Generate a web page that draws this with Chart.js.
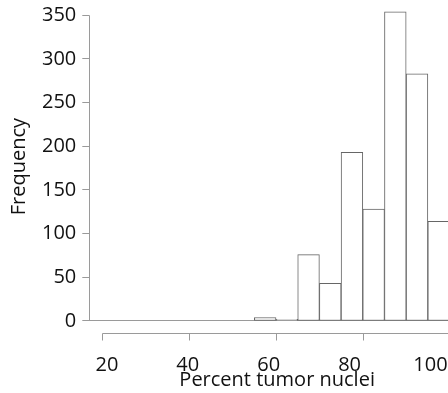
<!DOCTYPE html>
<html>
<head>
<meta charset="utf-8">
<script src="https://cdn.jsdelivr.net/npm/chart.js@4/dist/chart.umd.min.js"></script>
<style>
html,body{margin:0;padding:0;background:#fff;overflow:hidden}
#wrap{width:465px;height:393px;position:relative}
</style>
</head>
<body>
<div id="wrap"><canvas id="hist"></canvas></div>
<script>
// Histogram of percent tumor nuclei, 5-point bins (R style axes)
const binCenters = [22.5,27.5,32.5,37.5,42.5,47.5,52.5,57.5,62.5,67.5,72.5,77.5,82.5,87.5,92.5,97.5];
const frequency  = [0,0,0,0,0,0,0,4,2,76,43,193,128,354,283,114];
const xTicks = [20,40,60,80,100];
const yTicks = [0,50,100,150,200,250,300,350];
const xTitle = 'Percent tumor nuclei';
const yTitle = 'Frequency';

const axisGray = '#9a9a9a';
const textCol = '#111';
const font = {family:"'Open Sans', sans-serif", size:20};
const tickLen = 7;

// axis lines only span first..last tick, like base R; x ticks hang below the line
const rAxes = {
  id:'rAxes',
  afterDatasetsDraw(chart){
    const {ctx, chartArea, scales:{x, y}} = chart;
    ctx.save(); ctx.strokeStyle = axisGray; ctx.lineWidth = 1; ctx.beginPath();
    const ax = Math.round(chartArea.left)+0.5;
    ctx.moveTo(ax, y.getPixelForValue(yTicks[yTicks.length-1])); ctx.lineTo(ax, y.getPixelForValue(yTicks[0]));
    const ay = Math.round(chartArea.bottom)+0.5;
    ctx.moveTo(x.getPixelForValue(xTicks[0]), ay); ctx.lineTo(x.getPixelForValue(xTicks[xTicks.length-1]), ay);
    xTicks.forEach(v => { const px = Math.round(x.getPixelForValue(v))+0.5; ctx.moveTo(px, ay); ctx.lineTo(px, ay+tickLen); });
    ctx.stroke(); ctx.restore();
  }
};

new Chart(document.getElementById('hist'), {
  type:'bar',
  data:{ datasets:[{
    data: binCenters.map((c,i)=>({x:c, y:frequency[i]})),
    backgroundColor:'#fff', borderColor:'#666', borderWidth:1, borderSkipped:false,
    barPercentage:1, categoryPercentage:1, xAxisID:'x', yAxisID:'y'
  }]},
  options:{
    responsive:true, maintainAspectRatio:false, animation:false, devicePixelRatio:1,
    layout:{padding:0},
    plugins:{legend:{display:false}, tooltip:{enabled:false}},
    scales:{
      x:{ type:'linear', position:'bottom', weight:0, min:16.96, max:103.56, offset:false,
        afterBuildTicks: s => { s.ticks = xTicks.map(v=>({value:v})); },
        afterFit: s => { s.height = tickLen; s.paddingLeft = 0; s.paddingRight = 0; },
        grid:{display:false, offset:false},
        border:{display:false}, ticks:{display:false} },
      xl:{ type:'linear', position:'bottom', weight:1, min:15.65, max:108.53, offset:false,
        afterBuildTicks: s => { s.ticks = xTicks.map(v=>({value:v})); },
        afterFit: s => { s.height = 52.7; s.paddingLeft = 0; s.paddingRight = 0; },
        grid:{display:false, drawTicks:false, offset:false}, border:{display:false},
        ticks:{font, color:textCol, padding:13, maxRotation:0, autoSkip:false},
        title:{display:true, text:xTitle, font, color:textCol, padding:{top:0, bottom:1}} },
      y:{ type:'linear', min:-14.1, max:367.5,
        afterBuildTicks: s => { s.ticks = yTicks.map(v=>({value:v})); },
        afterFit: s => { s.width = 89.3; s.paddingTop = 0; s.paddingBottom = 0; },
        grid:{ color: c => (c.tick && c.tick.value === 0) ? axisGray : 'rgba(0,0,0,0)',
               tickColor:axisGray, tickLength:tickLen, drawTicks:true },
        border:{display:false},
        ticks:{font, color:textCol, padding:6},
        title:{display:true, text:yTitle, font, color:textCol, padding:{top:7.5, bottom:0}} }
    }
  },
  plugins:[rAxes]
});
</script>
</body>
</html>
